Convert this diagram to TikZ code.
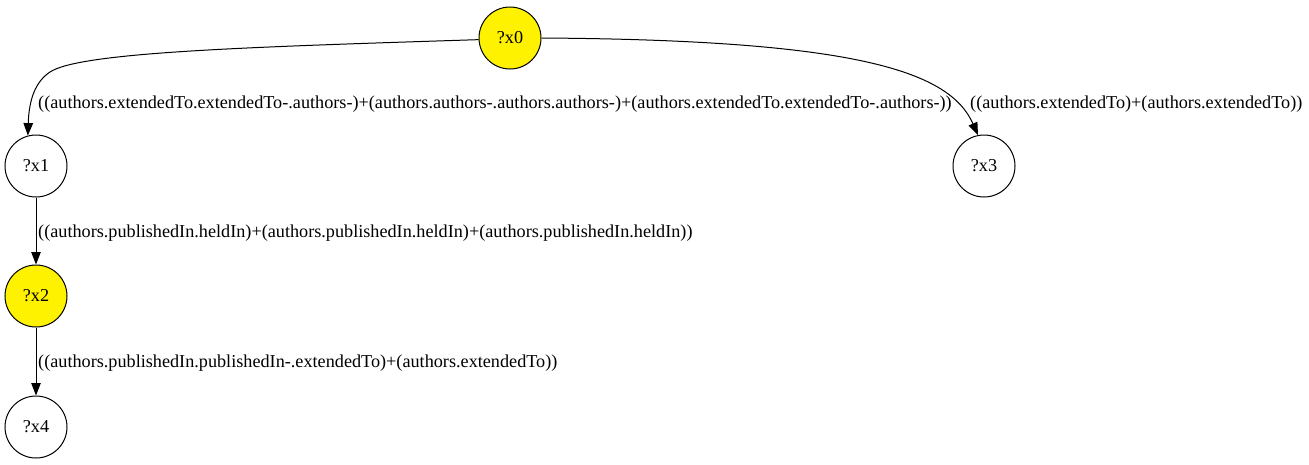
\documentclass[tikz,border=0pt]{standalone}
\usepackage{fontspec}
\setmainfont{Liberation Serif}
\usetikzlibrary{arrows.meta}
\tikzset{
  vnode/.style={circle,draw,line width=1pt,minimum size=62pt,inner sep=0pt,font=\fontsize{18.2}{20}\selectfont},
  hl/.style={fill=yellow},
  edge/.style={line width=1pt,-{Triangle[length=12.5pt,width=9.5pt]}},
  elabel/.style={anchor=west,inner sep=0pt,font=\fontsize{18.2}{20}\selectfont}
}
\begin{document}
\begin{tikzpicture}[x=1pt,y=-1pt]
\useasboundingbox (0,0) rectangle (1309,464);
\node[vnode,hl] (x0) at (510,38) {?x0};
\node[vnode] (x1) at (36,166) {?x1};
\node[vnode] (x3) at (984,166) {?x3};
\node[vnode,hl] (x2) at (36,296) {?x2};
\node[vnode] (x4) at (36,427) {?x4};
\draw[edge] (x0.183) .. controls (250,47) and (80,52) .. (50,72) .. controls (35,82) and (29,100) .. (x1.105);
\draw[edge] (x0.east) .. controls (860,40) and (950,72) .. (x3.101);
\draw[edge] (x1) -- (x2);
\draw[edge] (x2) -- (x4);
\node[elabel] (l1) at (38,104) {((authors.extendedTo.extendedTo-.authors-)+(authors.authors-.authors.authors-)+(authors.extendedTo.extendedTo-.authors-))};
\node[elabel] (l2) at (970,104) {((authors.extendedTo)+(authors.extendedTo))};
\node[elabel] (l3) at (38,233) {((authors.publishedIn.heldIn)+(authors.publishedIn.heldIn)+(authors.publishedIn.heldIn))};
\node[elabel] (l4) at (38,363) {((authors.publishedIn.publishedIn-.extendedTo)+(authors.extendedTo))};
\end{tikzpicture}
\end{document}
